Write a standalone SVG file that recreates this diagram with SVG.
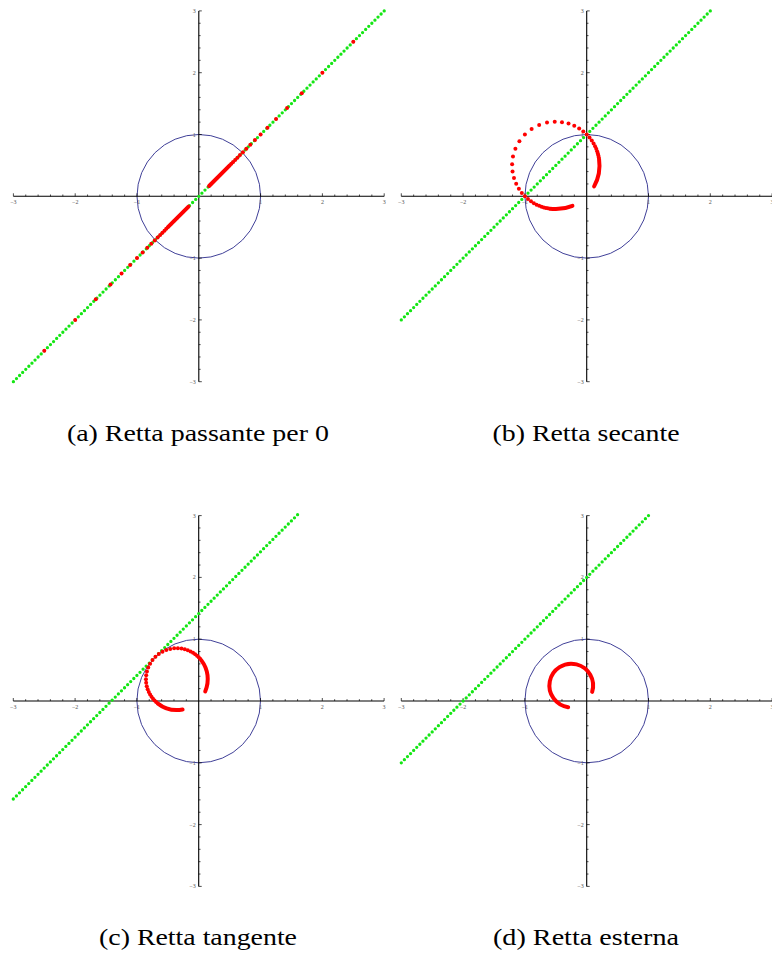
<svg xmlns="http://www.w3.org/2000/svg" xmlns:xlink="http://www.w3.org/1999/xlink" width="772" height="954" viewBox="0 0 772 954">
<style>
.ax{stroke:#000;stroke-width:1.1;fill:none}
.tk{stroke:#000;stroke-width:0.7;fill:none}
.uc{stroke:#404098;stroke-width:1;fill:none}
.gr{stroke:#14e614;stroke-width:3.3;stroke-linecap:round;stroke-dasharray:0 4.36993;fill:none}
.rl{stroke:#f00;stroke-width:4;stroke-linecap:round;fill:none}
.rd{fill:#f00}
.tl{font-family:"Liberation Serif",serif;font-size:6px;fill:#555}
.tx{text-anchor:middle}
.ty{text-anchor:end}
.cap{font-family:"Liberation Serif",serif;font-size:23px;fill:#000;text-anchor:middle}
</style>
<defs>
<path id="ticks" class="tk" d="M-185.4 0v-3M-173.04 0v-1.8M-160.68 0v-1.8M-148.32 0v-1.8M-135.96 0v-1.8M-123.6 0v-3M-111.24 0v-1.8M-98.88 0v-1.8M-86.52 0v-1.8M-74.16 0v-1.8M-61.8 0v-3M-49.44 0v-1.8M-37.08 0v-1.8M-24.72 0v-1.8M-12.36 0v-1.8M12.36 0v-1.8M24.72 0v-1.8M37.08 0v-1.8M49.44 0v-1.8M61.8 0v-3M74.16 0v-1.8M86.52 0v-1.8M98.88 0v-1.8M111.24 0v-1.8M123.6 0v-3M135.96 0v-1.8M148.32 0v-1.8M160.68 0v-1.8M173.04 0v-1.8M185.4 0v-3M0 -185.4h3M0 -173.04h1.8M0 -160.68h1.8M0 -148.32h1.8M0 -135.96h1.8M0 -123.6h3M0 -111.24h1.8M0 -98.88h1.8M0 -86.52h1.8M0 -74.16h1.8M0 -61.8h3M0 -49.44h1.8M0 -37.08h1.8M0 -24.72h1.8M0 -12.36h1.8M0 12.36h1.8M0 24.72h1.8M0 37.08h1.8M0 49.44h1.8M0 61.8h3M0 74.16h1.8M0 86.52h1.8M0 98.88h1.8M0 111.24h1.8M0 123.6h3M0 135.96h1.8M0 148.32h1.8M0 160.68h1.8M0 173.04h1.8M0 185.4h3"/>
</defs>
<rect width="772" height="954" fill="#fff"/>

<g id="plot-a" transform="translate(198.8,196.3)">
<circle class="uc" cx="0" cy="0" r="61.8"/>
<path class="ax" d="M-185.4 0H185.4M0 -185.4V185.4"/>
<use xlink:href="#ticks"/>
<text class="tl tx" x="-185.4" y="8">−3</text><text class="tl tx" x="-123.6" y="8">−2</text><text class="tl tx" x="-61.8" y="8">−1</text><text class="tl tx" x="61.8" y="8">1</text><text class="tl tx" x="123.6" y="8">2</text><text class="tl tx" x="185.4" y="8">3</text>
<text class="tl ty" x="-3" y="-183.4">3</text><text class="tl ty" x="-3" y="-121.6">2</text><text class="tl ty" x="-3" y="-59.8">1</text><text class="tl ty" x="-3" y="63.8">−1</text><text class="tl ty" x="-3" y="125.6">−2</text><text class="tl ty" x="-3" y="187.4">−3</text>
<path class="gr" d="M-185.4 185.4L185.75 -185.75"/>
<g id="red-a">
<path class="rl" d="M10.3 -10.3L30.9 -30.9M-10.3 10.3L-30.9 30.9"/>
<circle class="rd" cx="154.5" cy="-154.5" r="2"/><circle class="rd" cx="123.6" cy="-123.6" r="2"/><circle class="rd" cx="103" cy="-103" r="2"/><circle class="rd" cx="88.29" cy="-88.29" r="2"/><circle class="rd" cx="77.25" cy="-77.25" r="2"/><circle class="rd" cx="68.67" cy="-68.67" r="2"/><circle class="rd" cx="61.8" cy="-61.8" r="2"/><circle class="rd" cx="56.18" cy="-56.18" r="2"/><circle class="rd" cx="51.5" cy="-51.5" r="2"/><circle class="rd" cx="47.54" cy="-47.54" r="2"/><circle class="rd" cx="44.14" cy="-44.14" r="2"/><circle class="rd" cx="41.2" cy="-41.2" r="2"/><circle class="rd" cx="38.63" cy="-38.63" r="2"/><circle class="rd" cx="36.35" cy="-36.35" r="2"/><circle class="rd" cx="34.33" cy="-34.33" r="2"/><circle class="rd" cx="32.53" cy="-32.53" r="2"/>
<circle class="rd" cx="-154.5" cy="154.5" r="2"/><circle class="rd" cx="-123.6" cy="123.6" r="2"/><circle class="rd" cx="-103" cy="103" r="2"/><circle class="rd" cx="-88.29" cy="88.29" r="2"/><circle class="rd" cx="-77.25" cy="77.25" r="2"/><circle class="rd" cx="-68.67" cy="68.67" r="2"/><circle class="rd" cx="-61.8" cy="61.8" r="2"/><circle class="rd" cx="-56.18" cy="56.18" r="2"/><circle class="rd" cx="-51.5" cy="51.5" r="2"/><circle class="rd" cx="-47.54" cy="47.54" r="2"/><circle class="rd" cx="-44.14" cy="44.14" r="2"/><circle class="rd" cx="-41.2" cy="41.2" r="2"/><circle class="rd" cx="-38.63" cy="38.63" r="2"/><circle class="rd" cx="-36.35" cy="36.35" r="2"/><circle class="rd" cx="-34.33" cy="34.33" r="2"/><circle class="rd" cx="-32.53" cy="32.53" r="2"/>
</g>
</g>

<g id="plot-b" transform="translate(586.7,196.3)">
<circle class="uc" cx="0" cy="0" r="61.8"/>
<path class="ax" d="M-185.4 0H185.4M0 -185.4V185.4"/>
<use xlink:href="#ticks"/>
<text class="tl tx" x="-185.4" y="8">−3</text><text class="tl tx" x="-123.6" y="8">−2</text><text class="tl tx" x="-61.8" y="8">−1</text><text class="tl tx" x="61.8" y="8">1</text><text class="tl tx" x="123.6" y="8">2</text><text class="tl tx" x="185.4" y="8">3</text>
<text class="tl ty" x="-3" y="-183.4">3</text><text class="tl ty" x="-3" y="-121.6">2</text><text class="tl ty" x="-3" y="-59.8">1</text><text class="tl ty" x="-3" y="63.8">−1</text><text class="tl ty" x="-3" y="125.6">−2</text><text class="tl ty" x="-3" y="187.4">−3</text>
<path class="gr" d="M-185.4 123.6L123.95 -185.75"/>
<g id="red-b">
<path class="rl" d="M-14.26 9.51A43.7 43.7 0 0 1 -37.08 12.36M12.36 -37.08A43.7 43.7 0 0 1 7.42 -9.89"/>
<circle class="rd" cx="-38.88" cy="12.07" r="2"/><circle class="rd" cx="-40.81" cy="11.66" r="2"/><circle class="rd" cx="-42.9" cy="11.12" r="2"/><circle class="rd" cx="-45.14" cy="10.42" r="2"/><circle class="rd" cx="-47.54" cy="9.51" r="2"/><circle class="rd" cx="-50.11" cy="8.35" r="2"/><circle class="rd" cx="-52.84" cy="6.89" r="2"/><circle class="rd" cx="-55.72" cy="5.07" r="2"/><circle class="rd" cx="-58.72" cy="2.8" r="2"/><circle class="rd" cx="-61.8" cy="0" r="2"/><circle class="rd" cx="-64.87" cy="-3.41" r="2"/><circle class="rd" cx="-67.83" cy="-7.54" r="2"/><circle class="rd" cx="-70.51" cy="-12.44" r="2"/><circle class="rd" cx="-72.71" cy="-18.18" r="2"/><circle class="rd" cx="-74.16" cy="-24.72" r="2"/><circle class="rd" cx="-74.59" cy="-31.97" r="2"/><circle class="rd" cx="-73.71" cy="-39.69" r="2"/><circle class="rd" cx="-71.31" cy="-47.54" r="2"/><circle class="rd" cx="-67.31" cy="-55.07" r="2"/><circle class="rd" cx="-61.8" cy="-61.8" r="2"/><circle class="rd" cx="-55.07" cy="-67.31" r="2"/><circle class="rd" cx="-47.54" cy="-71.31" r="2"/><circle class="rd" cx="-39.69" cy="-73.71" r="2"/><circle class="rd" cx="-31.97" cy="-74.59" r="2"/><circle class="rd" cx="-24.72" cy="-74.16" r="2"/><circle class="rd" cx="-18.18" cy="-72.71" r="2"/><circle class="rd" cx="-12.44" cy="-70.51" r="2"/><circle class="rd" cx="-7.54" cy="-67.83" r="2"/><circle class="rd" cx="-3.41" cy="-64.87" r="2"/><circle class="rd" cx="0" cy="-61.8" r="2"/><circle class="rd" cx="2.8" cy="-58.72" r="2"/><circle class="rd" cx="5.07" cy="-55.72" r="2"/><circle class="rd" cx="6.89" cy="-52.84" r="2"/><circle class="rd" cx="8.35" cy="-50.11" r="2"/><circle class="rd" cx="9.51" cy="-47.54" r="2"/><circle class="rd" cx="10.42" cy="-45.14" r="2"/><circle class="rd" cx="11.12" cy="-42.9" r="2"/><circle class="rd" cx="11.66" cy="-40.81" r="2"/><circle class="rd" cx="12.07" cy="-38.88" r="2"/>
</g>
</g>

<g id="plot-c" transform="translate(198.7,701)">
<circle class="uc" cx="0" cy="0" r="61.8"/>
<path class="ax" d="M-185.4 0H185.4M0 -185.4V185.4"/>
<use xlink:href="#ticks"/>
<text class="tl tx" x="-185.4" y="8">−3</text><text class="tl tx" x="-123.6" y="8">−2</text><text class="tl tx" x="-61.8" y="8">−1</text><text class="tl tx" x="61.8" y="8">1</text><text class="tl tx" x="123.6" y="8">2</text><text class="tl tx" x="185.4" y="8">3</text>
<text class="tl ty" x="-3" y="-183.4">3</text><text class="tl ty" x="-3" y="-121.6">2</text><text class="tl ty" x="-3" y="-59.8">1</text><text class="tl ty" x="-3" y="63.8">−1</text><text class="tl ty" x="-3" y="125.6">−2</text><text class="tl ty" x="-3" y="187.4">−3</text>
<path class="gr" d="M-185.4 98L99.2 -186.6"/>
<g id="red-c">
<path class="rl" d="M-16.1 8.51A30.9 30.9 0 0 1 -41.07 2.35M2.68 -40.64A30.9 30.9 0 0 1 6.51 -9.58"/>
<circle class="rd" cx="-42.59" cy="1.05" r="2"/><circle class="rd" cx="-44.14" cy="-0.45" r="2"/><circle class="rd" cx="-45.67" cy="-2.17" r="2"/><circle class="rd" cx="-47.17" cy="-4.14" r="2"/><circle class="rd" cx="-48.6" cy="-6.38" r="2"/><circle class="rd" cx="-49.91" cy="-8.91" r="2"/><circle class="rd" cx="-51.04" cy="-11.73" r="2"/><circle class="rd" cx="-51.94" cy="-14.84" r="2"/><circle class="rd" cx="-52.54" cy="-18.22" r="2"/><circle class="rd" cx="-52.75" cy="-21.85" r="2"/><circle class="rd" cx="-52.51" cy="-25.66" r="2"/><circle class="rd" cx="-51.77" cy="-29.58" r="2"/><circle class="rd" cx="-50.47" cy="-33.5" r="2"/><circle class="rd" cx="-48.6" cy="-37.31" r="2"/><circle class="rd" cx="-46.18" cy="-40.9" r="2"/><circle class="rd" cx="-43.26" cy="-44.13" r="2"/><circle class="rd" cx="-39.91" cy="-46.92" r="2"/><circle class="rd" cx="-36.25" cy="-49.19" r="2"/><circle class="rd" cx="-32.39" cy="-50.9" r="2"/><circle class="rd" cx="-28.46" cy="-52.03" r="2"/><circle class="rd" cx="-24.56" cy="-52.63" r="2"/><circle class="rd" cx="-20.8" cy="-52.73" r="2"/><circle class="rd" cx="-17.23" cy="-52.4" r="2"/><circle class="rd" cx="-13.92" cy="-51.72" r="2"/><circle class="rd" cx="-10.9" cy="-50.74" r="2"/><circle class="rd" cx="-8.16" cy="-49.55" r="2"/><circle class="rd" cx="-5.72" cy="-48.21" r="2"/><circle class="rd" cx="-3.56" cy="-46.75" r="2"/><circle class="rd" cx="-1.66" cy="-45.24" r="2"/><circle class="rd" cx="0" cy="-43.7" r="2"/><circle class="rd" cx="1.44" cy="-42.16" r="2"/>
</g>
</g>

<g id="plot-d" transform="translate(586.7,701)">
<circle class="uc" cx="0" cy="0" r="61.8"/>
<path class="ax" d="M-185.4 0H185.4M0 -185.4V185.4"/>
<use xlink:href="#ticks"/>
<text class="tl tx" x="-185.4" y="8">−3</text><text class="tl tx" x="-123.6" y="8">−2</text><text class="tl tx" x="-61.8" y="8">−1</text><text class="tl tx" x="61.8" y="8">1</text><text class="tl tx" x="123.6" y="8">2</text><text class="tl tx" x="185.4" y="8">3</text>
<text class="tl ty" x="-3" y="-183.4">3</text><text class="tl ty" x="-3" y="-121.6">2</text><text class="tl ty" x="-3" y="-59.8">1</text><text class="tl ty" x="-3" y="63.8">−1</text><text class="tl ty" x="-3" y="125.6">−2</text><text class="tl ty" x="-3" y="187.4">−3</text>
<path class="gr" d="M-185.4 61.8L62.15 -185.75"/>
<path id="red-d" class="rl" d="M-18.54 6.18A21.85 21.85 0 1 1 5.45 -9.09"/>
</g>

<g id="captions">
<text class="cap" x="197.9" y="441" textLength="262" lengthAdjust="spacingAndGlyphs">(a) Retta passante per 0</text>
<text class="cap" x="586" y="441" textLength="187" lengthAdjust="spacingAndGlyphs">(b) Retta secante</text>
<text class="cap" x="198" y="945" textLength="198" lengthAdjust="spacingAndGlyphs">(c) Retta tangente</text>
<text class="cap" x="586" y="945" textLength="186" lengthAdjust="spacingAndGlyphs">(d) Retta esterna</text>
</g>
</svg>
